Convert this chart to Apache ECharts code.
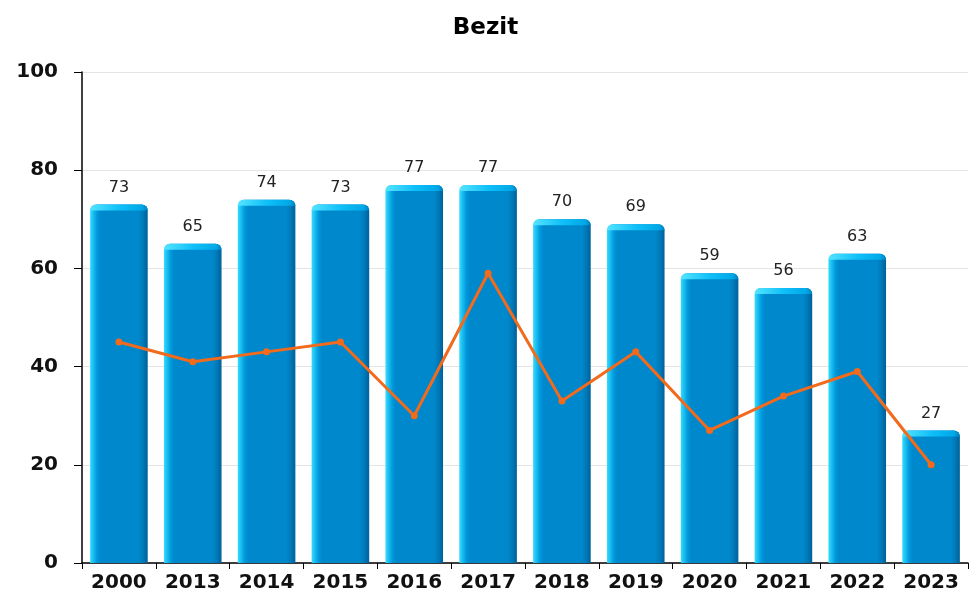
<!DOCTYPE html>
<html>
<head>
<meta charset="utf-8">
<script src="https://cdn.jsdelivr.net/npm/echarts@6/dist/echarts.min.js"></script>
<style>
  html, body { margin: 0; padding: 0; background: #fff; }
  #chart { width: 971px; height: 598px; }
</style>
</head>
<body>
<div id="chart"></div>
<script>
// data
const years = ['2000', '2013', '2014', '2015', '2016', '2017', '2018', '2019', '2020', '2021', '2022', '2023']
const barValues = [73, 65, 74, 73, 77, 77, 70, 69, 59, 56, 63, 27]
const lineValues = [45, 41, 43, 45, 30, 59, 33, 43, 27, 34, 39, 20]

const chart = echarts.init(document.getElementById('chart'))

// bar fill: light edge left, dark edge right (fake 3d)
const barFill = new echarts.graphic.LinearGradient(0, 0, 1, 0, [
  { offset: 0, color: '#33ddff' },
  { offset: 0.12, color: '#0099dd' },
  { offset: 0.18, color: '#0088cc' },
  { offset: 0.84, color: '#0088cc' },
  { offset: 0.92, color: '#0079b8' },
  { offset: 1, color: '#00609a' }
])
const capFill = new echarts.graphic.LinearGradient(0, 0, 1, 0, [
  { offset: 0, color: '#55e4ff' },
  { offset: 0.5, color: '#10c0f8' },
  { offset: 0.9, color: '#00a8e8' },
  { offset: 1, color: '#0080c0' }
])
const BAR_RATIO = 0.78

const option = {
  animation: false,
  title: {
    text: 'Bezit',
    left: 'center',
    top: 12,
    textStyle: { fontFamily: 'DejaVu Sans', fontWeight: 'bold', fontSize: 23, color: '#000' }
  },
  grid: { left: 82, right: 3, top: 72, bottom: 35 },
  xAxis: {
    type: 'category',
    data: years,
    axisLine: { lineStyle: { color: '#000', width: 1.5 } },
    axisTick: { show: true, length: 6, lineStyle: { color: '#000' } },
    axisLabel: {
      interval: 0,
      hideOverlap: false,
      fontFamily: 'DejaVu Sans',
      fontWeight: 'bold',
      fontSize: 20,
      color: '#111',
      margin: 10
    }
  },
  yAxis: {
    type: 'value',
    min: 0,
    max: 100,
    interval: 20,
    axisLine: { show: true, lineStyle: { color: '#000', width: 1.5 } },
    axisTick: { show: true, length: 8, lineStyle: { color: '#000' } },
    axisLabel: { fontFamily: 'DejaVu Sans', fontWeight: 'bold', fontSize: 20, color: '#111', margin: 24 },
    splitLine: { lineStyle: { color: '#e4e4e4' } }
  },
  series: [
    {
      type: 'bar',
      data: barValues,
      barCategoryGap: '22%',
      itemStyle: { color: barFill, borderRadius: [6, 6, 0, 0] },
      label: {
        show: true,
        position: 'top',
        distance: 9,
        fontFamily: 'DejaVu Sans',
        fontSize: 16,
        color: '#222'
      }
    },
    {
      // light top cap of each bar
      type: 'custom',
      data: barValues.map((v, i) => [i, v]),
      encode: { x: 0, y: 1 },
      silent: true,
      z: 3,
      renderItem: (params, api) => {
        const p = api.coord([api.value(0), api.value(1)])
        const w = api.size([1, 0])[0] * BAR_RATIO
        return {
          type: 'rect',
          shape: { x: p[0] - w / 2, y: p[1], width: w, height: 6, r: [6, 6, 0, 0] },
          style: { fill: capFill }
        }
      }
    },
    {
      type: 'line',
      data: lineValues,
      symbol: 'circle',
      symbolSize: 7,
      lineStyle: { color: '#f26a1b', width: 3 },
      itemStyle: { color: '#f26a1b' },
      z: 5
    }
  ]
}

chart.setOption(option)
</script>
</body>
</html>
